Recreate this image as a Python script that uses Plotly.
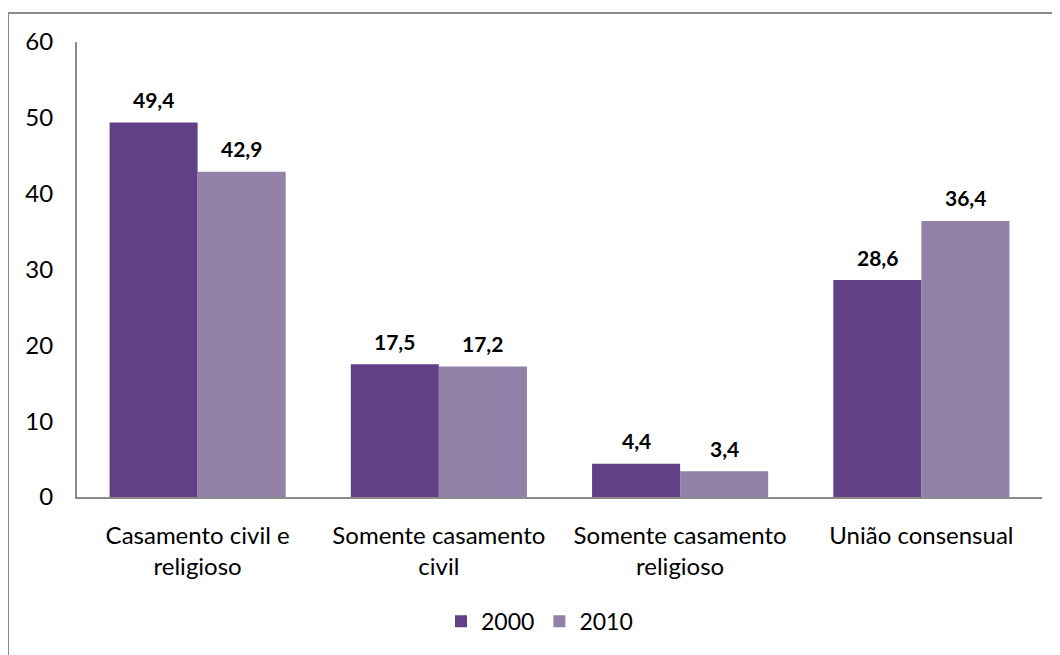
import plotly.graph_objects as go

categories = ["Casamento civil e<br>religioso", "Somente casamento<br>civil",
              "Somente casamento<br>religioso", "União consensual"]
series_names = ["2000", "2010"]
values_2000 = [49.4, 17.5, 4.4, 28.6]
values_2010 = [42.9, 17.2, 3.4, 36.4]
y_ticks = [0, 10, 20, 30, 40, 50, 60]

colors = ["#624085", "#9381aa"]
FONT = "Lato"

OFF = 8  # default page body margin
W, H = 1060 - OFF, 655 - OFF
L = 77 - OFF
R = W - (1042 - OFF)
T = 42 - OFF
B = H - (497.5 - OFF)
pw, ph = W - L - R, H - T - B


def px_x(p):
    return (p - OFF - L) / pw


def px_y(p):
    return (H - B - (p - OFF)) / ph


fig = go.Figure()
for name, vals, col in zip(series_names, [values_2000, values_2010], colors):
    fig.add_trace(go.Bar(
        x=categories, y=vals, name=name,
        marker=dict(color=col, line=dict(width=0)),
    ))

bar_px = pw / len(categories) * (1 - 0.27) / 2
annotations = []
for i, vals in enumerate([values_2000, values_2010]):
    shift = (i - 0.5) * bar_px
    for c, v in zip(categories, vals):
        annotations.append(dict(
            x=c, y=v, xref="x", yref="y", text="<b>" + f"{v:.1f}".replace(".", ",") + "</b>",
            showarrow=False, xshift=shift, yshift=23, yanchor="middle",
            font=dict(family=FONT, size=21, color="black"),
        ))

fig.update_layout(
    width=W, height=H,
    margin=dict(l=L, r=R, t=T, b=B, pad=0),
    paper_bgcolor="white", plot_bgcolor="white",
    barmode="group", bargap=0.27, bargroupgap=0,
    separators=",.",
    font=dict(family=FONT, size=24, color="black"),
    showlegend=True,
    legend=dict(orientation="h", x=px_x(539.5), xanchor="center", y=px_y(622), yanchor="middle",
                font=dict(family=FONT, size=23), traceorder="normal"),
    xaxis=dict(showline=True, linecolor="#8a8a8a", linewidth=2, ticks="",
               tickfont=dict(family=FONT, size=24), showgrid=False, ticklabelstandoff=16),
    yaxis=dict(range=[0, 60], tickvals=y_ticks, showline=True, linecolor="#8a8a8a",
               linewidth=2, ticks="", showgrid=False, zeroline=False,
               tickfont=dict(family=FONT, size=24), ticklabelstandoff=17),
    annotations=annotations,
    shapes=[
        dict(type="line", xref="paper", yref="paper", x0=px_x(8), x1=px_x(1080),
             y0=px_y(13), y1=px_y(13), line=dict(color="#8c8c8c", width=2)),
        dict(type="line", xref="paper", yref="paper", x0=px_x(8), x1=px_x(8),
             y0=px_y(13), y1=px_y(680), line=dict(color="#8c8c8c", width=2)),
    ],
)

fig.write_html("out.html")
